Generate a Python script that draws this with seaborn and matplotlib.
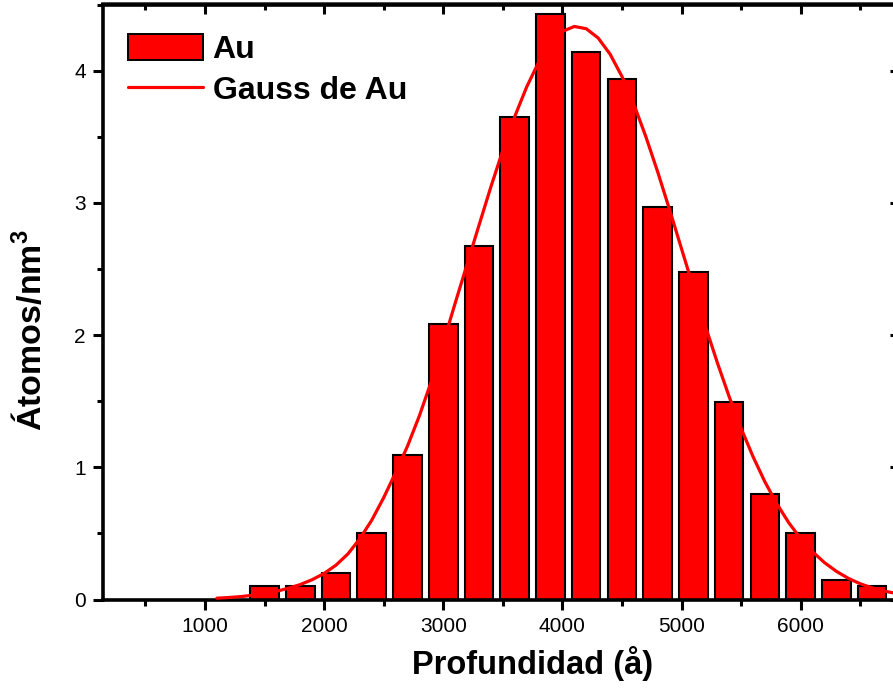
import matplotlib
matplotlib.use("Agg")
import matplotlib.pyplot as plt
from matplotlib.patches import Patch
from matplotlib.lines import Line2D
from matplotlib.ticker import MultipleLocator
import seaborn as sns
import pandas as pd

# ---- data ----
depth = [1500, 1800, 2100, 2400, 2700, 3000, 3300, 3600, 3900,
         4200, 4500, 4800, 5100, 5400, 5700, 6000, 6300, 6600]
au = [0.10, 0.10, 0.20, 0.50, 1.09, 2.08, 2.67, 3.65, 4.43,
      4.14, 3.94, 2.97, 2.48, 1.49, 0.80, 0.50, 0.15, 0.10]

gauss_x = [1100, 1200, 1300, 1400, 1500, 1600, 1700, 1800, 1900, 2000,
           2100, 2200, 2300, 2400, 2500, 2600, 2700, 2800, 2900, 3000,
           3100, 3200, 3300, 3400, 3500, 3600, 3700, 3800, 3900, 4000,
           4100, 4200, 4300, 4400, 4500, 4600, 4700, 4800, 4900, 5000,
           5100, 5200, 5300, 5400, 5500, 5600, 5700, 5800, 5900, 6000,
           6100, 6200, 6300, 6400, 6500, 6600, 6700, 6800]
gauss_y = [0.010, 0.015, 0.022, 0.032, 0.045, 0.062, 0.085, 0.113, 0.150, 0.197,
           0.260, 0.345, 0.460, 0.600, 0.770, 0.960, 1.160, 1.390, 1.650, 1.940,
           2.241, 2.535, 2.830, 3.121, 3.397, 3.652, 3.876, 4.062, 4.204, 4.296,
           4.334, 4.317, 4.247, 4.125, 3.956, 3.746, 3.502, 3.234, 2.948, 2.653,
           2.358, 2.069, 1.793, 1.534, 1.296, 1.081, 0.890, 0.724, 0.581, 0.461,
           0.361, 0.279, 0.213, 0.160, 0.119, 0.088, 0.064, 0.046]

bar_label = "Au"
line_label = "Gauss de Au"
x_label = "Profundidad (å)"
y_label = "Átomos/nm$^\\mathbf{3}$"

bars_df = pd.DataFrame({"depth": depth, "au": au})
curve_df = pd.DataFrame({"x": gauss_x, "y": gauss_y})

sns.set_theme(style="white")
plt.rcParams["font.family"] = ["Liberation Sans", "DejaVu Sans"]
plt.rcParams["mathtext.fontset"] = "custom"
plt.rcParams["mathtext.rm"] = "Liberation Sans"
plt.rcParams["mathtext.bf"] = "Liberation Sans:bold"

W, H = 893, 688
fig = plt.figure(figsize=(W / 100, H / 100), dpi=100)
fig.patch.set_facecolor("white")
left_px, right_px, top_px, bottom_px = 103, 900, 4.5, 599.5
ax = fig.add_axes([left_px / W, 1 - bottom_px / H,
                   (right_px - left_px) / W, (bottom_px - top_px) / H])
ax.set_facecolor("white")

red = "#ff0000"
sns.barplot(data=bars_df, x="depth", y="au", native_scale=True, width=0.8,
            color=red, saturation=1, edgecolor="black", linewidth=1.5,
            errorbar=None, ax=ax, zorder=2)
sns.lineplot(data=curve_df, x="x", y="y", color=red, linewidth=2.3,
             ax=ax, zorder=3, sort=True)

ax.set_xlim(144, 6834)
ax.set_ylim(0, 4.5)

ax.xaxis.set_major_locator(MultipleLocator(1000))
ax.xaxis.set_minor_locator(MultipleLocator(500))
ax.yaxis.set_major_locator(MultipleLocator(1))
ax.yaxis.set_minor_locator(MultipleLocator(0.5))

for sp in ax.spines.values():
    sp.set_visible(True)
    sp.set_color("black")
    sp.set_linewidth(2.6)

ax.tick_params(axis="both", which="both", colors="black", width=2.2,
               labelsize=15, labelcolor="black")
ax.tick_params(axis="both", which="major", length=7.5, pad=5)
ax.tick_params(axis="both", which="minor", length=4)
ax.tick_params(axis="x", which="both", direction="out", top=False, bottom=True)
ax.tick_params(axis="y", which="both", direction="out", left=True, right=False)

# inward ticks on the top and right frame lines
ax_top = ax.secondary_xaxis("top")
ax_top.xaxis.set_major_locator(MultipleLocator(1000))
ax_top.xaxis.set_minor_locator(MultipleLocator(500))
ax_top.tick_params(axis="x", which="both", direction="in", width=2.2,
                   labeltop=False, colors="black")
ax_top.tick_params(axis="x", which="major", length=7.5)
ax_top.tick_params(axis="x", which="minor", length=4)
ax_top.spines["top"].set_linewidth(2.6)
ax_right = ax.secondary_yaxis("right")
ax_right.yaxis.set_major_locator(MultipleLocator(1))
ax_right.yaxis.set_minor_locator(MultipleLocator(0.5))
ax_right.tick_params(axis="y", which="both", direction="in", width=2.2,
                     labelright=False, colors="black")
ax_right.tick_params(axis="y", which="major", length=7.5)
ax_right.tick_params(axis="y", which="minor", length=4)

ax.set_xlabel(x_label, fontsize=23.5, fontweight="bold", color="black")
ax.set_ylabel(y_label, fontsize=24.5, fontweight="bold", color="black")
ax.xaxis.set_label_coords((533 - left_px) / (right_px - left_px), -0.078)
ax.yaxis.set_label_coords((49 - left_px) / (right_px - left_px),
                          (bottom_px - 330) / (bottom_px - top_px))

handles = [Patch(facecolor=red, edgecolor="black", linewidth=1.4),
           Line2D([0], [0], color=red, linewidth=2.3)]
leg = ax.legend(handles, [bar_label, line_label], loc="upper left",
                bbox_to_anchor=(25 / (right_px - left_px), 1 - 30 / (bottom_px - top_px)),
                frameon=False, borderpad=0, borderaxespad=0,
                prop={"size": 23, "weight": "bold"},
                handlelength=2.35, handleheight=0.84, handletextpad=0.3,
                labelspacing=0.32)
for t in leg.get_texts():
    t.set_color("black")

fig.savefig("out.png", dpi=100, facecolor="white")
